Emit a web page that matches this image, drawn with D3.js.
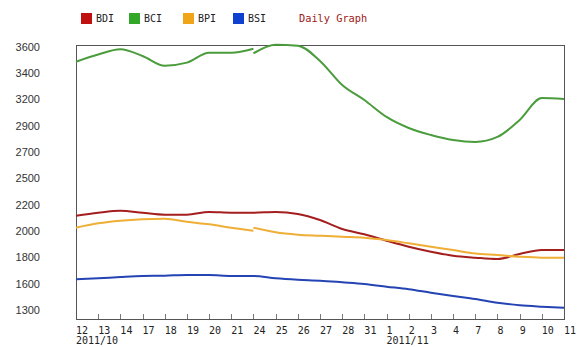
<!DOCTYPE html>
<html>
<head>
<meta charset="utf-8">
<script src="https://cdn.jsdelivr.net/npm/d3@7"></script>
<style>
  html, body { margin: 0; padding: 0; background: #fff; }
  svg { display: block; }
</style>
</head>
<body>
<svg id="chart" width="580" height="347"></svg>
<script>
// Trading days on the x axis (Oct 12 – Nov 11, 2011)
const days = ["12","13","14","17","18","19","20","21","24","25","26","27","28","31",
              "1","2","3","4","7","8","9","10","11"];
const monthStartIndex = [0, 14];
const monthNames = ["2011/10", "2011/11"];

// Y axis labels, evenly spaced on the chart
const yTicks = [3600, 3400, 3200, 2900, 2700, 2500, 2200, 2000, 1800, 1600, 1300];

// Daily index values
const bdiValues = [2117, 2140, 2155, 2140, 2125, 2125, 2145, 2140, 2140, 2145, 2130, 2084,
                   2016, 1976, 1927, 1881, 1843, 1813, 1798, 1788, 1826, 1856, 1856];
const bciValues = [3488, 3543, 3583, 3532, 3458, 3481, 3557, 3557, 3587, 3617, 3610, 3494,
                   3311, 3195, 3002, 2884, 2831, 2793, 2778, 2816, 2967, 3212, 3205];
const bpiValues = [2026, 2059, 2079, 2090, 2094, 2071, 2052, 2026, 2003, 1991, 1973, 1965,
                   1957, 1950, 1932, 1907, 1881, 1856, 1829, 1818, 1805, 1798, 1798];
const bsiValues = [1633, 1641, 1651, 1659, 1661, 1666, 1666, 1659, 1659, 1641, 1630, 1623,
                   1611, 1597, 1566, 1536, 1497, 1460, 1426, 1383, 1354, 1338, 1326];

// Lines that restart at a different level on the 24th
const restartIndex = 8;
const bciRestart = 3552;
const bpiRestart = 2026;

const seriesNames = ["BDI", "BCI", "BPI", "BSI"];
const legendColors = ["#c01010", "#33a828", "#f0a418", "#1040d0"];
const lineColors = ["#a41e1e", "#4a9c3c", "#efae35", "#2444b4"];

const series = [
  { values: bdiValues, restart: null },
  { values: bciValues, restart: bciRestart },
  { values: bpiValues, restart: bpiRestart },
  { values: bsiValues, restart: null }
];

const svg = d3.select("#chart");
const plot = { left: 76, right: 564, top: 45, bottom: 319 };
const yTop = 47, yStep = 26.3;

const x = d3.scalePoint().domain(days).range([plot.left, plot.right]);
const y = d3.scaleLinear()
  .domain(yTicks)
  .range(yTicks.map((d, i) => yTop + i * yStep));

// Plot frame
svg.append("rect")
  .attr("x", plot.left + 0.5).attr("y", plot.top + 0.5)
  .attr("width", plot.right - plot.left).attr("height", plot.bottom - plot.top)
  .attr("fill", "#fff").attr("stroke", "#555").attr("stroke-width", 1);

// X ticks rising from the bottom edge
svg.append("g").selectAll("line")
  .data(days.slice(1, -1))
  .join("line")
  .attr("x1", d => Math.round(x(d)) + 0.5).attr("x2", d => Math.round(x(d)) + 0.5)
  .attr("y1", plot.bottom).attr("y2", plot.bottom - 5)
  .attr("stroke", "#777").attr("stroke-width", 1);

// X labels
svg.append("g").selectAll("text")
  .data(days)
  .join("text")
  .attr("x", d => x(d))
  .attr("y", 334)
  .attr("font-family", "'DejaVu Sans Mono', monospace")
  .attr("font-size", 10)
  .attr("fill", "#222")
  .text(d => d);

svg.append("g").selectAll("text")
  .data(monthStartIndex)
  .join("text")
  .attr("x", d => x(days[d]))
  .attr("y", 344)
  .attr("font-family", "'DejaVu Sans Mono', monospace")
  .attr("font-size", 10)
  .attr("fill", "#222")
  .text((d, i) => monthNames[i]);

// Y labels
svg.append("g").selectAll("text")
  .data(yTicks)
  .join("text")
  .attr("x", 40)
  .attr("y", d => y(d))
  .attr("dy", "0.35em")
  .attr("text-anchor", "end")
  .attr("font-family", "'Liberation Sans', Arial, sans-serif")
  .attr("font-size", 11)
  .attr("fill", "#333")
  .text(d => d);

// Lines
const line = d3.line()
  .x(d => x(days[d.i]))
  .y(d => y(d.v))
  .curve(d3.curveMonotoneX);

const lines = svg.append("g");
series.forEach((s, k) => {
  const pts = s.values.map((v, i) => ({ i, v }));
  const segments = s.restart == null
    ? [pts]
    : [pts.slice(0, restartIndex + 1),
       [{ i: restartIndex, v: s.restart }].concat(pts.slice(restartIndex + 1))];
  segments.forEach(seg => {
    lines.append("path")
      .attr("d", line(seg))
      .attr("fill", "none")
      .attr("stroke", lineColors[k])
      .attr("stroke-width", 2);
  });
});

// Legend
const legend = svg.append("g");
const legendX = [81, 129, 183, 233];
seriesNames.forEach((name, k) => {
  legend.append("rect")
    .attr("x", legendX[k]).attr("y", 13)
    .attr("width", 11).attr("height", 11)
    .attr("fill", legendColors[k]);
  legend.append("text")
    .attr("x", legendX[k] + 15).attr("y", 22)
    .attr("font-family", "'DejaVu Sans Mono', monospace")
    .attr("font-size", 10)
    .attr("fill", "#222")
    .text(name);
});
legend.append("text")
  .attr("x", 299).attr("y", 22)
  .attr("font-family", "'DejaVu Sans Mono', monospace")
  .attr("font-size", 10.3)
  .attr("fill", "#a01818")
  .text("Daily Graph");
</script>
</body>
</html>
